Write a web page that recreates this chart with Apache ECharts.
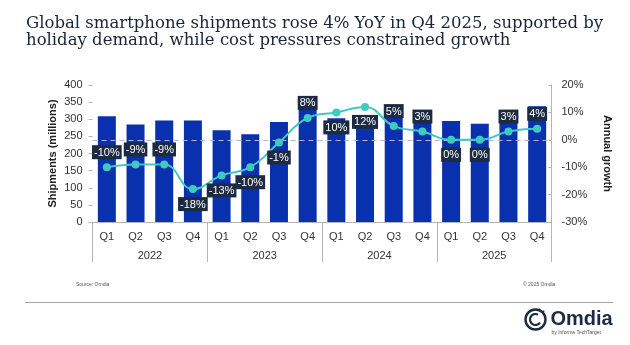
<!DOCTYPE html>
<html>
<head>
<meta charset="utf-8">
<style>
  html, body { margin: 0; padding: 0; background: #ffffff; }
  #chart { width: 630px; height: 345px; }
</style>
<script src="https://cdn.jsdelivr.net/npm/echarts@6/dist/echarts.min.js"></script>
</head>
<body>
<div id="chart"></div>
<script>
// Quarterly global smartphone shipments and year-on-year growth
const quarters = ['Q1','Q2','Q3','Q4','Q1','Q2','Q3','Q4','Q1','Q2','Q3','Q4','Q1','Q2','Q3','Q4'];
const years = ['2022', '2023', '2024', '2025'];
// Shipments in millions of units
const shipments = [309, 285, 296, 296, 268, 256, 292, 359, 303, 297, 341, 326, 295, 287, 318, 338];
// Annual growth in percent
const growth = [-10, -9, -9, -18, -13, -10, -1, 8, 10, 12, 5, 3, 0, 0, 3, 4];
// Where each growth label sits relative to its point
const labelSide = ['top','top','top','bottom','bottom','bottom','bottom','top','bottom','bottom','top','top','bottom','bottom','top','top'];

const leftTicks = { min: 0, max: 400, interval: 50 };
const rightTicks = { min: -30, max: 20, interval: 10 };

const navy = '#1c2a42';
const titleNavy = '#18243a';
const barBlue = '#0a31ad';
const teal = '#3fcabf';
const axisGray = '#b5b5b5';
const labelColor = '#333333';
const zeroLine = '#b4b4d4';

const chart = echarts.init(document.getElementById('chart'), null, { renderer: 'canvas' });

const growthData = growth.map((v, i) => ({
  value: v,
  label: { position: labelSide[i] }
}));

chart.setOption({
  backgroundColor: '#ffffff',
  animation: false,
  title: {
    text: 'Global smartphone shipments rose 4% YoY in Q4 2025, supported by\nholiday demand, while cost pressures constrained growth',
    left: 26,
    top: 15,
    padding: 0,
    textStyle: {
      fontFamily: 'DejaVu Serif',
      fontWeight: 'normal',
      fontSize: 16.5,
      lineHeight: 17,
      color: titleNavy
    }
  },
  grid: { left: 92.5, right: 78.5, top: 85, bottom: 123, containLabel: false },
  xAxis: [
    {
      type: 'category',
      data: quarters,
      position: 'bottom',
      axisLine: { show: true, onZero: false, lineStyle: { color: axisGray, width: 1 } },
      axisTick: { show: false },
      axisLabel: { color: labelColor, fontSize: 11, fontFamily: 'Liberation Sans', margin: 9, interval: 0 }
    },
    {
      type: 'category',
      data: years,
      position: 'bottom',
      axisLine: { show: false, onZero: false },
      axisTick: { show: true, length: 40, interval: 0, lineStyle: { color: axisGray, width: 1 } },
      axisLabel: { color: labelColor, fontSize: 11, fontFamily: 'Liberation Sans', margin: 28, interval: 0 },
      splitLine: { show: false }
    }
  ],
  yAxis: [
    {
      type: 'value',
      min: leftTicks.min,
      max: leftTicks.max,
      interval: leftTicks.interval,
      name: 'Shipments (millions)',
      nameLocation: 'middle',
      nameRotate: 90,
      nameGap: 34,
      nameMoveOverlap: false,
      nameTextStyle: { color: '#222222', fontSize: 11, fontWeight: 'bold', fontFamily: 'Liberation Sans' },
      axisLine: { show: false },
      axisTick: { show: true, length: 4, lineStyle: { color: axisGray } },
      axisLabel: { color: labelColor, fontSize: 11, fontFamily: 'Liberation Sans', margin: 10 },
      splitLine: { show: false }
    },
    {
      type: 'value',
      min: rightTicks.min,
      max: rightTicks.max,
      interval: rightTicks.interval,
      position: 'right',
      name: 'Annual growth',
      nameLocation: 'middle',
      nameRotate: -90,
      nameGap: 50,
      nameMoveOverlap: false,
      nameTextStyle: { color: '#222222', fontSize: 11, fontWeight: 'bold', fontFamily: 'Liberation Sans' },
      axisLine: { show: true, onZero: false, lineStyle: { color: axisGray } },
      axisTick: { show: true, inside: true, length: 3, lineStyle: { color: axisGray } },
      axisLabel: { color: labelColor, fontSize: 11, fontFamily: 'Liberation Sans', margin: 10, formatter: '{value}%' },
      splitLine: { show: false }
    }
  ],
  series: [
    {
      name: 'Shipments',
      type: 'bar',
      xAxisIndex: 0,
      yAxisIndex: 0,
      data: shipments,
      barWidth: 18,
      z: 2,
      itemStyle: { color: barBlue }
    },
    {
      name: 'Annual growth',
      type: 'line',
      xAxisIndex: 0,
      yAxisIndex: 1,
      data: growthData,
      smooth: 0.45,
      z: 4,
      symbol: 'circle',
      symbolSize: 8,
      lineStyle: { color: teal, width: 2 },
      itemStyle: { color: teal },
      label: {
        show: true,
        distance: 4,
        formatter: '{c}%',
        color: '#ffffff',
        fontSize: 11,
        fontFamily: 'Liberation Sans',
        backgroundColor: navy,
        padding: [2, 2, 1, 2]
      },
      // dashed reference line at zero growth
      markLine: {
        silent: true,
        z: 3,
        symbol: ['none', 'none'],
        label: { show: false },
        emphasis: { disabled: true },
        lineStyle: { color: zeroLine, type: [5, 4], width: 1 },
        data: [{ yAxis: 0 }]
      }
    }
  ],
  graphic: [
    {
      type: 'text',
      left: 76,
      top: 282,
      style: { text: 'Source: Omdia', fontSize: 5, fontFamily: 'Liberation Sans', fill: '#555555' }
    },
    {
      type: 'text',
      left: 523,
      top: 282,
      style: { text: '© 2025 Omdia', fontSize: 5, fontFamily: 'Liberation Sans', fill: '#555555' }
    },
    {
      type: 'line',
      shape: { x1: 25, y1: 302.5, x2: 613, y2: 302.5 },
      style: { stroke: '#a6a6a6', lineWidth: 1 }
    },
    {
      type: 'group',
      left: 523,
      top: 307,
      children: [
        { type: 'circle', shape: { cx: 12, cy: 11, r: 10 }, style: { fill: 'none', stroke: navy, lineWidth: 2.4 } },
        { type: 'arc', shape: { cx: 12, cy: 11, r: 5.5, startAngle: 0.6, endAngle: 5.2 }, style: { fill: 'none', stroke: navy, lineWidth: 2.2 } },
        { type: 'circle', shape: { cx: 20, cy: 3, r: 1 }, style: { fill: navy } },
        { type: 'circle', shape: { cx: 16, cy: 1, r: 0.9 }, style: { fill: navy } },
        {
          type: 'text',
          left: 27,
          top: 1,
          style: { text: 'Omdia', fontSize: 20, fontWeight: 'bold', fontFamily: 'Liberation Sans', fill: navy }
        },
        {
          type: 'text',
          left: 28,
          top: 22,
          style: { text: 'by Informa TechTarget', fontSize: 5, fontFamily: 'Liberation Sans', fill: '#555555' }
        }
      ]
    }
  ]
});
</script>
</body>
</html>
